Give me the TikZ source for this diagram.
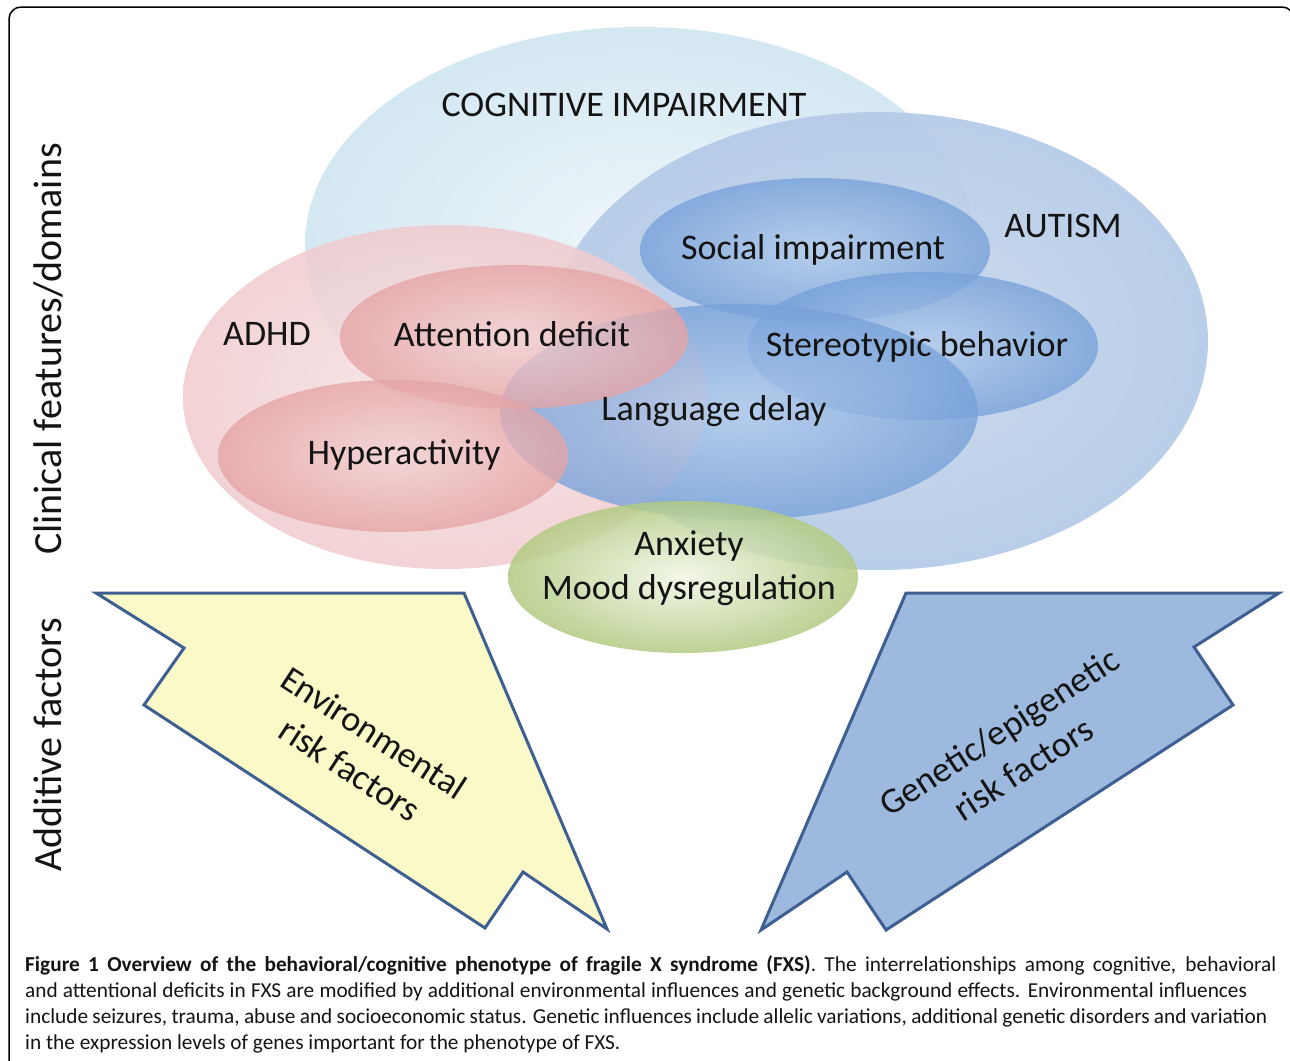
\documentclass[tikz,border=0pt]{standalone}
\usepackage{fontspec}
\setmainfont{Carlito}
\newfontfamily\capfont{Carlito}
\definecolor{cogc}{HTML}{D4E8F2}
\definecolor{cogi}{HTML}{EEF6FA}
\definecolor{autc}{HTML}{B4CAE7}
\definecolor{auti}{HTML}{C9DAEE}
\definecolor{adhdc}{HTML}{F0CBCE}
\definecolor{adhdi}{HTML}{F7E6E7}
\definecolor{pinkc}{HTML}{E6A4A5}
\definecolor{pinki}{HTML}{F3D3D3}
\definecolor{bluec}{HTML}{77A1D9}
\definecolor{bluei}{HTML}{B3CCEC}
\definecolor{grnc}{HTML}{B2CA82}
\definecolor{grni}{HTML}{F2F7E6}
\definecolor{yelf}{HTML}{FAFAC8}
\definecolor{arrf}{HTML}{9DB9DD}
\definecolor{arrd}{HTML}{3E5F92}
\definecolor{txt}{HTML}{141414}
\begin{document}
\begin{tikzpicture}[x=1pt,y=-1pt,
  lab/.style={font=\fontsize{36}{44}\selectfont, text=txt, inner sep=0pt, align=center},
  side/.style={font=\fontsize{40}{46}\selectfont, text=txt, inner sep=0pt, rotate=90},
  captext/.style={font=\capfont\fontsize{21.3}{24}\selectfont, text=txt, inner sep=0pt, anchor=base west},
  bigarrow/.style={draw=arrd, line width=3pt, line join=miter},
  innerop/.style={fill opacity=0.78}]
\useasboundingbox (0,0) rectangle (1290,1060);
\fill[white] (0,0) rectangle (1290,1060);
% frame
\draw[line width=1.5pt, rounded corners=12pt] (9,7) rectangle (1294,1090);
% domain ellipses
\shade[inner color=cogi, outer color=cogc] (640,245) ellipse [x radius=335pt, y radius=218pt];
\shade[inner color=auti, outer color=autc, fill opacity=0.92] (878,341) ellipse [x radius=330pt, y radius=229pt];
\shade[inner color=adhdi, outer color=adhdc, fill opacity=0.85] (445,397) ellipse [x radius=262pt, y radius=172pt];
% feature ellipses
\shade[inner color=bluei, outer color=bluec, innerop] (815,250) ellipse [x radius=175pt, y radius=72pt];
\shade[inner color=bluei, outer color=bluec, innerop] (923,346) ellipse [x radius=175pt, y radius=74pt];
\shade[inner color=bluei, outer color=bluec, innerop] (739,412) ellipse [x radius=239pt, y radius=108pt];
\shade[inner color=pinki, outer color=pinkc, innerop] (514,337) ellipse [x radius=174pt, y radius=72pt];
\shade[inner color=pinki, outer color=pinkc, innerop] (393,456) ellipse [x radius=175pt, y radius=76pt];
\shade[inner color=grni, outer color=grnc, fill opacity=0.85] (683,577) ellipse [x radius=175pt, y radius=76pt];
% big arrows
\draw[bigarrow, fill=yelf] (96,593) -- (464,593) -- (607,929) -- (523,872) -- (485,928) -- (144,705) -- (184,648) -- cycle;
\draw[bigarrow, fill=arrf] (906,593) -- (1279,593) -- (1194,647) -- (1233,705) -- (886,930) -- (847,872) -- (761,930) -- cycle;
% labels
\node[lab] (cogt) at (624,105) {COGNITIVE IMPAIRMENT};
\node[lab] (autt) at (1063,226) {AUTISM};
\node[lab] (soct) at (813,250) {Social impairment};
\node[lab] (stet) at (917,347) {Stereotypic behavior};
\node[lab] (lant) at (714,411) {Language delay};
\node[lab] (adht) at (267,334) {ADHD};
\node[lab] (attt) at (512,334) {Attention deficit};
\node[lab] (hypt) at (404,455) {Hyperactivity};
\node[lab] (anxt) at (689,568) {Anxiety\\Mood dysregulation};
\node[side] (clin) at (48,349) {Clinical features/domains};
\node[side] (addf) at (48,745) {Additive factors};
\node[lab, rotate=-33] (envt) at (362,751) {Environmental\\risk factors};
\node[lab, rotate=33] (gent) at (1011,750) {Genetic/epigenetic\\risk factors};
% caption
\node[captext] (cap1) at (25,971) {\makebox[1251pt][s]{\textbf{Figure 1 Overview of the behavioral/cognitive phenotype of fragile X syndrome (FXS)}. The interrelationships among cognitive, behavioral}};
\node[captext] (cap2) at (25,997) {\makebox[1222pt][s]{and attentional deficits in FXS are modified by additional environmental influences and genetic background effects. Environmental influences}};
\node[captext] (cap3) at (25,1023) {\makebox[1242pt][s]{include seizures, trauma, abuse and socioeconomic status. Genetic influences include allelic variations, additional genetic disorders and variation}};
\node[captext] (cap4) at (25,1049) {in the expression levels of genes important for the phenotype of FXS.};
\end{tikzpicture}
\end{document}
